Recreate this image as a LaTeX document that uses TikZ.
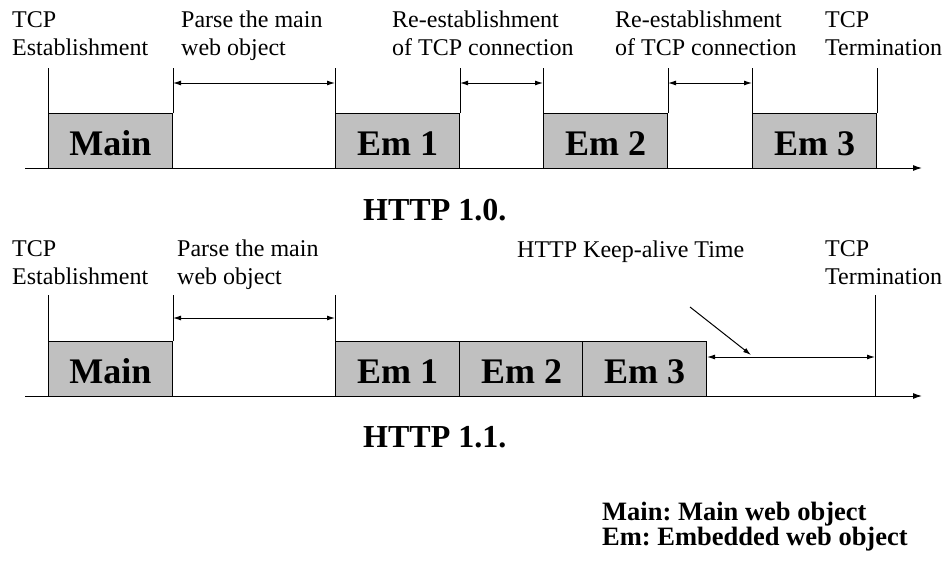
\documentclass[tikz,border=0pt]{standalone}
\usepackage{fontspec}
\setmainfont{Liberation Serif}
\usetikzlibrary{arrows.meta}
\definecolor{boxgray}{RGB}{192,192,192}
\frenchspacing
\begin{document}
\begin{tikzpicture}[x=1pt,y=-1pt,
  lab/.style={font=\fontsize{24}{28}\selectfont, align=left, anchor=north west, inner sep=0pt},
  legend/.style={font=\bfseries\fontsize{26.5}{23}\selectfont, align=left, anchor=north west, inner sep=0pt},
  blk/.style={draw=black, fill=boxgray, line width=1pt, minimum width=124pt, minimum height=55pt,
    inner sep=0pt, font=\bfseries\fontsize{36}{40}\selectfont, text height=29pt, text depth=0pt, anchor=north west},
  tick/.style={line width=1pt},
  axis/.style={line width=1pt, -{Latex[length=9pt,width=6pt]}},
  dim/.style={line width=1pt, {Latex[length=8pt,width=5pt]}-{Latex[length=8pt,width=5pt]}},
  ptr/.style={line width=1pt, -{Latex[length=8pt,width=5pt]}},
  title/.style={font=\bfseries\fontsize{32}{36}\selectfont, anchor=base west, inner sep=0pt},
]
\useasboundingbox[fill=white] (0,0) rectangle (948,565);

% ---------- HTTP 1.0 ----------
\coordinate (axA0) at (25,168);
\coordinate (axA1) at (922,168);
\coordinate (yA) at (0,83);
\node[blk] (mainA) at (48,113) {Main};
\node[blk] (em1A) at (335,113) {Em 1};
\node[blk] (em2A) at (543,113) {Em 2};
\node[blk] (em3A) at (752,113) {Em 3};
\draw[axis] (axA0) -- (axA1);
\foreach \b in {mainA,em1A,em2A,em3A}{
  \draw[tick] (\b.north west) -- ++(0,-45);
  \draw[tick] (\b.north east) -- ++(0,-45);
}
\draw[dim] (mainA.north east |- yA) -- (em1A.north west |- yA);
\draw[dim] (em1A.north east |- yA) -- (em2A.north west |- yA);
\draw[dim] (em2A.north east |- yA) -- (em3A.north west |- yA);

\node[lab] (estA) at (12,11) {TCP\\Establishment};
\node[lab] (parseA) at (181,11) {Parse the main\\web object};
\node[lab] (reA1) at (392,11) {Re-establishment\\of TCP connection};
\node[lab] (reA2) at (615,11) {Re-establishment\\of TCP connection};
\node[lab] (termA) at (825,11) {TCP\\Termination};
\node[title] (h10) at (363,220) {HTTP 1.0.};

% ---------- HTTP 1.1 ----------
\coordinate (axB0) at (25,396);
\coordinate (axB1) at (922,396);
\coordinate (yB) at (0,318);
\coordinate (yK) at (0,357);
\coordinate (termTick) at (875,295);
\node[blk] (mainB) at (48,341) {Main};
\node[blk] (em1B) at (335,341) {Em 1};
\node[blk] (em2B) at (459,341) {Em 2};
\node[blk] (em3B) at (582,341) {Em 3};
\draw[axis] (axB0) -- (axB1);
\draw[tick] (mainB.north west) -- ++(0,-46);
\draw[tick] (mainB.north east) -- ++(0,-46);
\draw[tick] (em1B.north west) -- ++(0,-46);
\draw[tick] (termTick) -- (termTick |- axB0);
\draw[dim] (mainB.north east |- yB) -- (em1B.north west |- yB);
\draw[dim] (em3B.north east |- yK) -- (termTick |- yK);

\node[lab] (estB) at (12,240) {TCP\\Establishment};
\node[lab] (parseB) at (177,240) {Parse the main\\web object};
\node[lab] (termB) at (825,240) {TCP\\Termination};
\node[lab] (kaB) at (517,241) {HTTP Keep-alive Time};
\coordinate (kaStart) at (690,307);
\coordinate (kaEnd) at (751,355);
\draw[ptr] (kaStart) -- (kaEnd);
\node[title] (h11) at (363,447) {HTTP 1.1.};

% ---------- legend ----------
\node[legend] (leg) at (602,502) {Main: Main web object\\Em: Embedded web object};
\end{tikzpicture}
\end{document}
